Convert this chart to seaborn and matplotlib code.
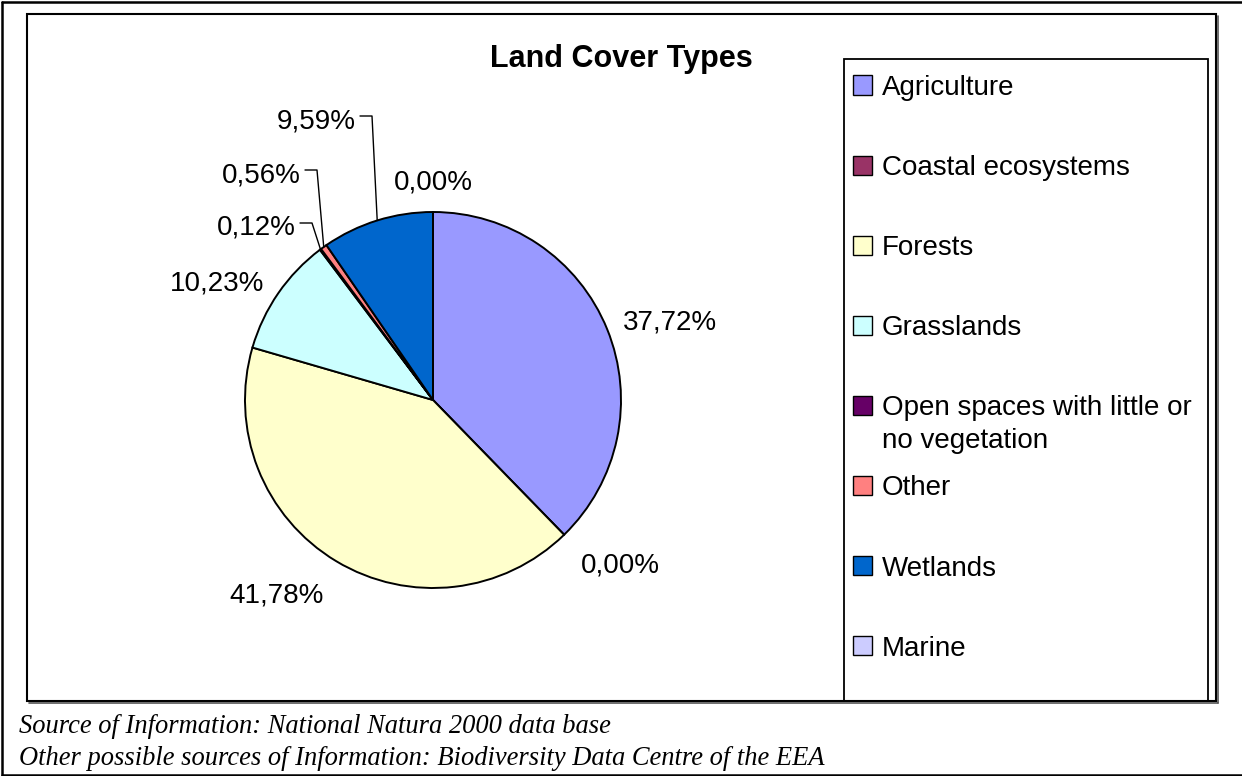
import textwrap
import numpy as np
import matplotlib
matplotlib.use("Agg")
import matplotlib.pyplot as plt
import seaborn as sns
from matplotlib.patches import Rectangle
from matplotlib.lines import Line2D

# ---------------- data ----------------
categories = ["Agriculture", "Coastal ecosystems", "Forests", "Grasslands",
              "Open spaces with little or no vegetation", "Other", "Wetlands", "Marine"]
shares = [37.72, 0.00, 41.78, 10.23, 0.12, 0.56, 9.59, 0.00]
colors = ["#9999FF", "#993366", "#FFFFCC", "#CCFFFF",
          "#660066", "#FF8080", "#0066CC", "#CCCCFF"]
title = "Land Cover Types"
footer_lines = ["Source of Information: National Natura 2000 data base",
                "Other possible sources of Information: Biodiversity Data Centre of the EEA"]

# ---------------- style ----------------
sns.set_theme(style="white")
plt.rcParams["font.family"] = ["Liberation Sans", "DejaVu Sans"]

W, H, DPI = 1242, 776, 100
fig = plt.figure(figsize=(W / DPI, H / DPI), dpi=DPI)
fig.patch.set_facecolor("white")


def fx(x):
    return x / W


def fy(y):
    return 1 - y / H


# pie geometry (pixels)
CX, CY, R = 433, 400, 188


def to_data(px, py):
    return (px - CX) / R, (CY - py) / R


ax = fig.add_axes([0, 0, 1, 1])
wedges, _ = ax.pie(shares, colors=colors, startangle=90, counterclock=False,
                   radius=1, center=(0, 0),
                   wedgeprops=dict(edgecolor="black", linewidth=1.4))
ax.set_xlim(-CX / R, (W - CX) / R)
ax.set_ylim(-(H - CY) / R, CY / R)
ax.set_aspect("auto")
ax.axis("off")

LABEL_FS = 20


def fmt(v):
    return f"{v:.2f}%".replace(".", ",")


# labels with leader lines (text right edge x, leader y in pixels)
leader_layout = {4: (296, 223), 5: (301, 170), 6: (356, 116)}

for i, (w, v) in enumerate(zip(wedges, shares)):
    mid = np.deg2rad((w.theta1 + w.theta2) / 2)
    c, s = np.cos(mid), np.sin(mid)
    if i in leader_layout:
        tx, ty = leader_layout[i]
        x0, y0 = to_data(tx, ty + 12)
        ax.text(x0, y0, fmt(v), ha="right", va="baseline", fontsize=LABEL_FS, color="black")
        ex, ey = c * 1.0, s * 1.0
        lx1, ly = to_data(tx + 4, ty)
        lx2, _ = to_data(tx + 16, ty)
        ax.plot([lx1, lx2, ex], [ly, ly, ey], color="black", lw=1.0)
    else:
        ha = "left" if c > 0.1 else ("right" if c < -0.1 else "center")
        va = "center" if abs(s) < 0.6 else ("bottom" if s > 0 else "top")
        r = 1.13 if va == "top" else 1.09
        ax.text(r * c, r * s, fmt(v), ha=ha, va=va, fontsize=LABEL_FS, color="black")

# title
fig.text(fx(621), fy(67), title, ha="center", va="baseline",
         fontsize=22, fontweight="bold", color="black")

# ---------------- frames ----------------
# outer frame (left, top, bottom)
for xs, ys in [([2, 2], [2, 775]), ([2, W], [2, 2]), ([2, W], [775, 775])]:
    fig.add_artist(Line2D([fx(x) for x in xs], [fy(y) for y in ys],
                          transform=fig.transFigure, color="black", lw=1.8))

# chart area frame with slight shadow
fig.add_artist(Line2D([fx(1217.5), fx(1217.5)], [fy(16), fy(702.5)],
                      transform=fig.transFigure, color="#555555", lw=1.2))
fig.add_artist(Line2D([fx(29), fx(1217.5)], [fy(702.5), fy(702.5)],
                      transform=fig.transFigure, color="#555555", lw=1.2))
fig.add_artist(Rectangle((fx(27), fy(701)), (1216 - 27) / W, (701 - 14) / H,
                         transform=fig.transFigure, fill=False,
                         edgecolor="black", lw=1.5))

# legend box
fig.add_artist(Rectangle((fx(844), fy(701)), (1208 - 844) / W, (701 - 59) / H,
                         transform=fig.transFigure, fill=False,
                         edgecolor="black", lw=1.3))

# legend entries
y_first, y_step = 85, 80.1
for i, (name, col) in enumerate(zip(categories, colors)):
    yc = y_first + i * y_step
    fig.add_artist(Rectangle((fx(853), fy(yc + 9.5)), 19 / W, 19 / H,
                             transform=fig.transFigure, facecolor=col,
                             edgecolor="black", lw=1.0))
    lines = textwrap.wrap(name, 26)
    for k, line in enumerate(lines):
        fig.text(fx(882), fy(yc + 10 + 33 * k), line, ha="left", va="baseline",
                 fontsize=LABEL_FS, color="black")

# footer
for k, line in enumerate(footer_lines):
    fig.text(fx(19), fy(733 + 32 * k), line, ha="left", va="baseline",
             fontsize=19.1, fontstyle="italic", family=["Liberation Serif", "DejaVu Serif"],
             color="black")

fig.savefig("out.png", dpi=DPI)
